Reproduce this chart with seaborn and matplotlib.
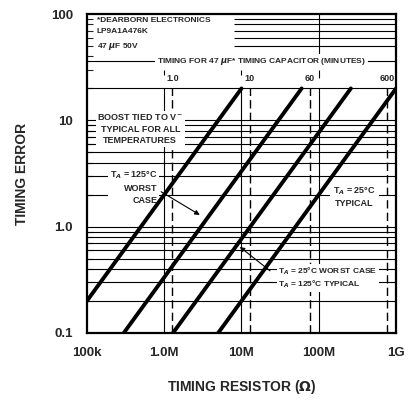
import numpy as np
import pandas as pd
import matplotlib
matplotlib.use('Agg')
import matplotlib.pyplot as plt
import seaborn as sns

# dati (errore di temporizzazione vs resistenza)
curve_names = ['c1', 'c2', 'c3', 'c4']
curve_r = [[1e5, 1e7], [3e5, 6e7], [1.3e6, 2.6e8], [5e6, 1e9]]
curve_err = [[0.2, 20], [0.1, 20], [0.1, 20], [0.1, 20]]

x_ticks = [1e5, 1e6, 1e7, 1e8, 1e9]
x_labels = ['100k', '1.0M', '10M', '100M', '1G']
y_ticks = [0.1, 1, 10, 100]
y_labels = ['0.1', '1.0', '10', '100']

minutes = [1, 10, 60, 600]
minute_labels = ['1.0', '10', '60', '600']
cap = 47e-6

df = pd.DataFrame({
    'curve': np.repeat(curve_names, 2),
    'r': np.concatenate(curve_r),
    'err': np.concatenate(curve_err),
})

sns.set_style('white')
plt.rcParams['font.family'] = ['Liberation Sans Narrow', 'Liberation Sans', 'DejaVu Sans']
plt.rcParams['font.weight'] = 'bold'

fig = plt.figure(figsize=(4.1, 4.05), dpi=100)
ax = fig.add_axes([0.212, 0.178, 0.754, 0.787])
ax.set_xscale('log')
ax.set_yscale('log')
ax.set_xlim(1e5, 1e9)
ax.set_ylim(0.1, 100)

# griglia orizzontale
gl = dict(color='black', lw=0.8, zorder=1)
for dec in [0.1, 1]:
    for m in range(1, 10):
        ax.axhline(dec * m, **gl)
for v in [10, 20]:
    ax.axhline(v, **gl)
ax.axhline(36, **gl)
ax.hlines([50, 60, 70, 80, 90], 8e6, 1e9, **gl)

# griglia verticale
for d in [1e6, 1e7, 1e8]:
    ax.vlines(d, 0.1, 20, **gl)
ax.vlines(1e8, 40, 100, **gl)
ax.vlines(1e8, 25, 30, **gl)
for d in [1e6, 1e7]:
    ax.vlines(d, 27, 30, color='black', lw=0.8)
res_min = [m * 60 / cap for m in minutes]
ax.vlines(res_min, 0.1, 20, color='black', lw=1.0, linestyles=(0, (6, 3)), zorder=1)

# curve
sns.lineplot(data=df, x='r', y='err', units='curve', estimator=None,
             color='black', lw=2.8, ax=ax, zorder=3)

# asse superiore in minuti
for r, lab in zip(res_min, minute_labels):
    ax.text(r, 22.5, lab, ha='center', va='bottom', fontsize=6.5)
ax.text(1.8e7, 36, 'TIMING FOR 47 $\\mu$F* TIMING CAPACITOR (MINUTES)', ha='center', va='center',
        fontsize=6, bbox=dict(fc='white', ec='none', pad=1.5), zorder=2)

ax.text(1.35e5, 95, '*DEARBORN ELECTRONICS\nLP9A1A476K\n47 $\\mu$F 50V', ha='left', va='top',
        fontsize=6, linespacing=1.85, bbox=dict(fc='white', ec='none', pad=1), zorder=2)

ax.text(4.9e5, 8.3, 'BOOST TIED TO V$^-$\nTYPICAL FOR ALL\nTEMPERATURES', ha='center', va='center',
        fontsize=6.5, linespacing=1.3, bbox=dict(fc='white', ec='none', pad=1), zorder=2)
ax.text(8.2e5, 2.35, 'T$_A$ = 125°C\nWORST\nCASE', ha='right', va='center',
        fontsize=6.5, linespacing=1.4, multialignment='right', bbox=dict(fc='white', ec='none', pad=1), zorder=2)
ax.annotate('', xy=(3.1e6, 1.25), xytext=(8.5e5, 2.2),
            arrowprops=dict(arrowstyle='-|>', color='black', lw=0.8, mutation_scale=7), zorder=4)

ax.text(2.9e8, 1.9, 'T$_A$ = 25°C\nTYPICAL', ha='center', va='center',
        fontsize=6.5, linespacing=1.3, bbox=dict(fc='white', ec='none', pad=2), zorder=2)

ax.text(3.0e7, 0.33, 'T$_A$ = 25°C WORST CASE\nT$_A$ = 125°C TYPICAL', ha='left', va='center',
        fontsize=6, linespacing=1.2, bbox=dict(fc='white', ec='none', pad=1), zorder=2)
ax.annotate('', xy=(8.9e6, 0.67), xytext=(2.5e7, 0.37),
            arrowprops=dict(arrowstyle='-|>', color='black', lw=0.8, mutation_scale=7), zorder=4)

# assi
ax.set_xticks(x_ticks)
ax.set_xticklabels(x_labels, fontsize=9.5, fontweight='bold')
ax.set_yticks(y_ticks)
ax.set_yticklabels(y_labels, fontsize=9.5, fontweight='bold')
ax.tick_params(which='major', length=0, pad=10)
ax.tick_params(which='minor', direction='in', length=4, width=0.8, left=True, bottom=False, labelleft=False)
ax.xaxis.set_minor_locator(matplotlib.ticker.NullLocator())
for s in ax.spines.values():
    s.set_color('black')
    s.set_linewidth(1.6)
ax.set_xlabel('TIMING RESISTOR ($\\Omega$)', fontsize=10, fontweight='bold', labelpad=14)
ax.set_ylabel('TIMING ERROR', fontsize=10, fontweight='bold', labelpad=16)

fig.savefig('out.png', dpi=100)
